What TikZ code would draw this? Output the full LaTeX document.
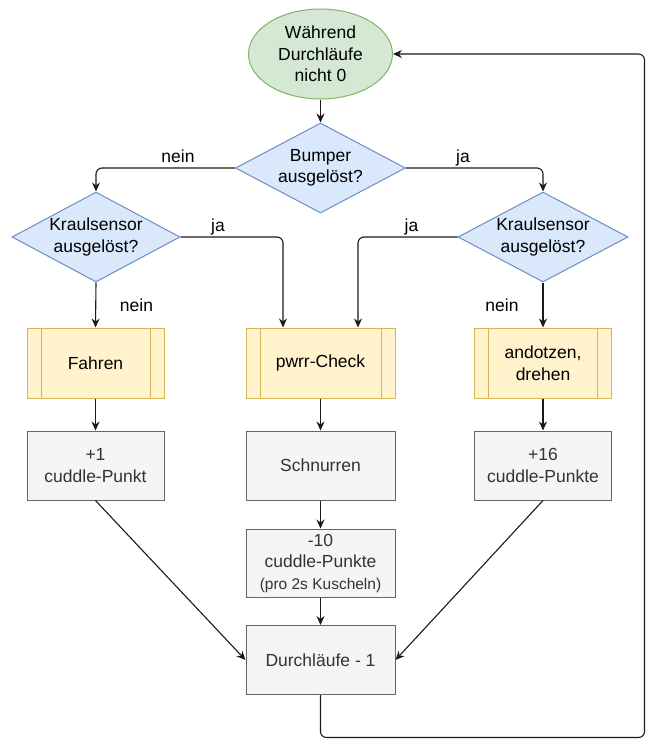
\documentclass[tikz,border=0pt]{standalone}
\usepackage{fontspec}
\setmainfont{Liberation Sans}
\usetikzlibrary{shapes.geometric,arrows.meta,calc}
\definecolor{gfill}{HTML}{D5E8D4}\definecolor{gline}{HTML}{82B366}
\definecolor{bfill}{HTML}{DAE8FC}\definecolor{bline}{HTML}{6C8EBF}
\definecolor{yfill}{HTML}{FFF2CC}\definecolor{yline}{HTML}{D6B656}
\definecolor{sfill}{HTML}{F5F5F5}\definecolor{sline}{HTML}{666666}
\definecolor{stext}{HTML}{333333}
\definecolor{edgecol}{HTML}{1A1A1A}
\begin{document}
\begin{tikzpicture}[x=1pt,y=-1pt,
  txt/.style={font=\fontsize{17.5}{21.5}\selectfont, align=center, inner sep=0pt},
  startnode/.style={ellipse, draw=gline, fill=gfill, line width=1pt, minimum width=144pt, minimum height=90pt, txt},
  decision/.style={diamond, draw=bline, fill=bfill, line width=1pt, inner sep=0pt, minimum width=#1, minimum height=90pt},
  procbox/.style={rectangle, draw=yline, fill=yfill, line width=1pt, minimum width=#1, minimum height=70pt, txt,
    path picture={
      \draw[yline, line width=1pt] ([xshift=14pt]path picture bounding box.north west) -- ([xshift=14pt]path picture bounding box.south west);
      \draw[yline, line width=1pt] ([xshift=-14pt]path picture bounding box.north east) -- ([xshift=-14pt]path picture bounding box.south east);
    }},
  opbox/.style={rectangle, draw=sline, fill=sfill, text=stext, line width=1pt, minimum width=#1, minimum height=69pt, txt},
  lbl/.style={txt, anchor=base},
  arr/.style={draw=edgecol, line width=1.1pt, -{Stealth[length=9pt,width=8pt,inset=3pt]}},
]
\useasboundingbox (0,0) rectangle (646,739);

% nodes
\node[startnode] (start) at (320.5,54) {Während\\Durchläufe\\nicht 0};

\node[decision=170pt] (bump) at (320.5,168) {};
\node[txt] (bumpT) at (bump) {Bumper\\ausgelöst?};

\node[decision=168pt] (kl) at (96,237) {};
\node[txt] (klT) at (kl) {Kraulsensor\\ausgelöst?};

\node[decision=170pt] (kr) at (543,237) {};
\node[txt] (krT) at (kr) {Kraulsensor\\ausgelöst?};

\node[procbox=137pt] (fahren) at (95.5,363) {Fahren};
\node[procbox=149pt] (pwrr) at (320.5,363) {pwrr-Check};
\node[procbox=137pt] (andot) at (543,363) {andotzen,\\drehen};

\node[opbox=137pt] (plus1) at (95.5,465.5) {+1\\cuddle-Punkt};
\node[opbox=149pt] (schn) at (320.5,465.5) {Schnurren};
\node[opbox=137pt] (plus16) at (543,465.5) {+16\\cuddle-Punkte};

\node[opbox=149pt, minimum height=68pt] (minus10) at (320.5,563) {-10\\cuddle-Punkte\\{\fontsize{15.5}{21.5}\selectfont(pro 2s Kuscheln)}};
\node[opbox=149pt] (dl) at (320.5,660) {Durchläufe - 1};

% labels
\node[lbl] (l1) at (178,162.5) {nein};
\node[lbl] (l2) at (463,162.5) {ja};
\node[lbl] (l3) at (218,231.5) {ja};
\node[lbl] (l4) at (411.5,231.5) {ja};
\node[lbl] (l5) at (136.5,311) {nein};
\node[lbl] (l6) at (502,311) {nein};

% edges
\draw[arr] (start.south) -- (bump.north);
\draw[arr, rounded corners=6pt] (bump.west) -| (kl.north);
\draw[arr, rounded corners=6pt] (bump.east) -| (kr.north);
\draw[arr, rounded corners=6pt] (kl.east) -| ($(pwrr.north west)!0.25!(pwrr.north east)$);
\draw[arr, rounded corners=6pt] (kr.west) -| ($(pwrr.north west)!0.75!(pwrr.north east)$);
\draw[arr] (kl.south) -- (fahren.north);
\draw[arr] (kr.south) -- (andot.north);
\draw[arr] (fahren) -- (plus1);
\draw[arr] (pwrr) -- (schn);
\draw[arr] (andot) -- (plus16);
\draw[arr] (schn) -- (minus10);
\draw[arr] (minus10) -- (dl);
\draw[arr] (plus1.south) -- (dl.west);
\draw[arr] (plus16.south) -- (dl.east);
\coordinate (loopc) at (644.5,737.5);
\draw[arr, rounded corners=6pt] (dl.south) |- (loopc) |- (start.east);
\end{tikzpicture}
\end{document}
